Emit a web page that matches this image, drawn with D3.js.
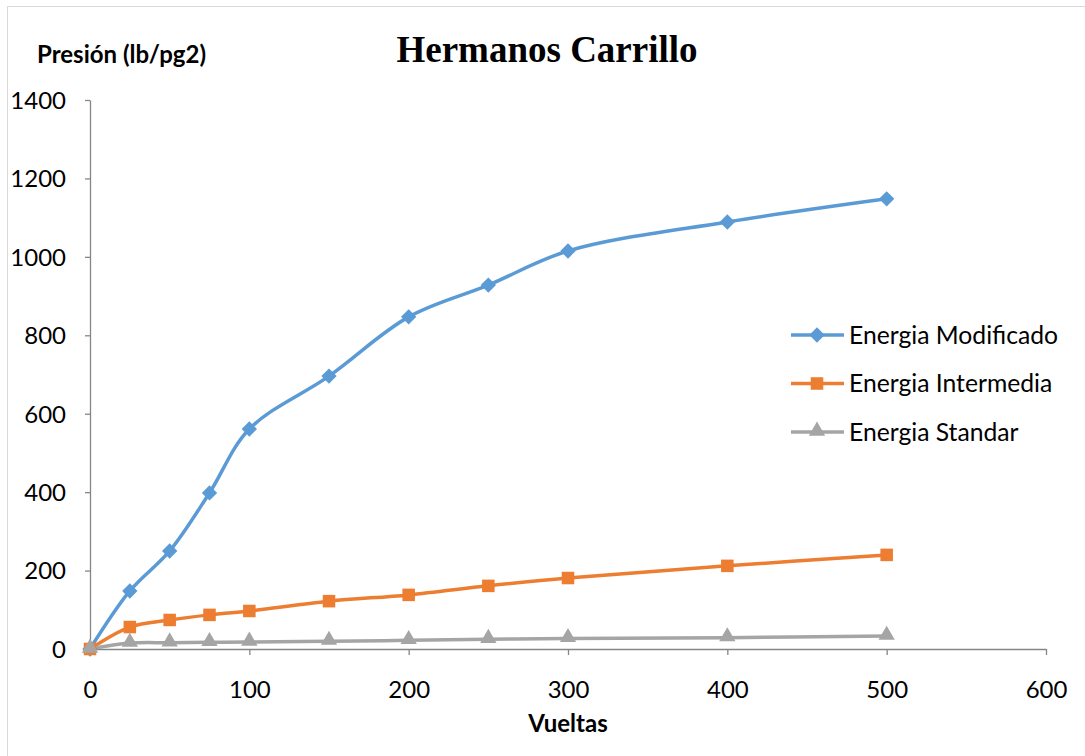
<!DOCTYPE html>
<html><head><meta charset="utf-8">
<script src="https://cdn.jsdelivr.net/npm/d3@7/dist/d3.min.js"></script>
<style>body{margin:0;background:#fff}</style>
</head><body>
<svg id="c" width="1085" height="756"></svg>
<script>
const vueltas = [0, 25, 50, 75, 100, 150, 200, 250, 300, 400, 500];
const modificado = [0, 148, 250, 398, 561, 696, 847, 928, 1015, 1089, 1148];
const intermedia = [0, 56, 74, 87, 97, 122, 138, 161, 181, 212, 240];
const standar = [0, 15, 16, 17, 18, 20, 22, 25, 27, 29, 33];
const seriesNames = ["Energia Modificado", "Energia Intermedia", "Energia Standar"];
const xTicks = [0, 100, 200, 300, 400, 500, 600];
const yTicks = [0, 200, 400, 600, 800, 1000, 1200, 1400];

const colors = ["#5B9BD5", "#ED7D31", "#A5A5A5"];
const symbols = [d3.symbolDiamond2, d3.symbolSquare2, d3.symbolTriangle2];
const series = [modificado, intermedia, standar];

const svg = d3.select("#c");
const font = "Lato, 'Open Sans', sans-serif";
svg.append("rect").attr("x", 7.5).attr("y", 6.5).attr("width", 1100).attr("height", 800)
  .attr("fill", "#fff").attr("stroke", "#d9d9d9").attr("stroke-width", 1);

const x = d3.scaleLinear().domain([0, 600]).range([90, 1046]);
const y = d3.scaleLinear().domain([0, 1400]).range([649, 100]);

const xAxis = svg.append("g").attr("transform", "translate(0,649)")
  .call(d3.axisBottom(x).tickValues(xTicks).tickFormat(d3.format("d")).tickSize(6).tickPadding(26).tickSizeOuter(0));
const yAxis = svg.append("g").attr("transform", "translate(90,0)")
  .call(d3.axisLeft(y).tickValues(yTicks).tickFormat(d3.format("d")).tickSize(5).tickPadding(19).tickSizeOuter(0));
[xAxis, yAxis].forEach(g => {
  g.select(".domain").attr("stroke", "#868686").attr("stroke-width", 1.3);
  g.selectAll(".tick line").attr("stroke", "#868686").attr("stroke-width", 1.3);
  g.selectAll("text").attr("font-family", font).attr("font-size", 24).attr("fill", "#000");
});
yAxis.selectAll("text").attr("dy", "0.35em");

const line = d3.line().x((d, i) => x(vueltas[i])).y(d => y(d)).curve(d3.curveCatmullRom.alpha(0.5));
series.forEach((s, k) => {
  svg.append("path").attr("d", line(s)).attr("fill", "none")
    .attr("stroke", colors[k]).attr("stroke-width", 3.5).attr("stroke-linejoin", "round");
});
const sizes = [150, 200, 190];
series.forEach((s, k) => {
  svg.append("g").selectAll("path").data(s).join("path")
    .attr("transform", (d, i) => `translate(${x(vueltas[i])},${y(d) + (k === 2 ? -1 : 0)})`)
    .attr("d", d3.symbol().type(symbols[k]).size(sizes[k]))
    .attr("fill", colors[k]);
});

// legend
const lg = svg.append("g");
seriesNames.forEach((n, k) => {
  const ly = 335 + k * 48.5;
  lg.append("line").attr("x1", 791).attr("x2", 844).attr("y1", ly).attr("y2", ly)
    .attr("stroke", colors[k]).attr("stroke-width", 3.5);
  lg.append("path").attr("transform", `translate(817,${ly + (k === 2 ? -1 : 0)})`)
    .attr("d", d3.symbol().type(symbols[k]).size(sizes[k])).attr("fill", colors[k]);
  lg.append("text").attr("x", 849).attr("y", ly).attr("dy", "0.35em")
    .attr("font-family", font).attr("font-size", 24.7).attr("fill", "#000").text(n);
});

svg.append("text").attr("x", 547).attr("y", 62).attr("text-anchor", "middle")
  .attr("font-family", "'Liberation Serif', 'Times New Roman', serif").attr("font-weight", "bold")
  .attr("font-size", 37).text("Hermanos Carrillo");
svg.append("text").attr("x", 37).attr("y", 63)
  .attr("font-family", font).attr("font-weight", "bold").attr("font-size", 24).text("Presión (lb/pg2)");
svg.append("text").attr("x", 568).attr("y", 732).attr("text-anchor", "middle")
  .attr("font-family", font).attr("font-weight", "bold").attr("font-size", 24).text("Vueltas");
</script>
</body></html>
